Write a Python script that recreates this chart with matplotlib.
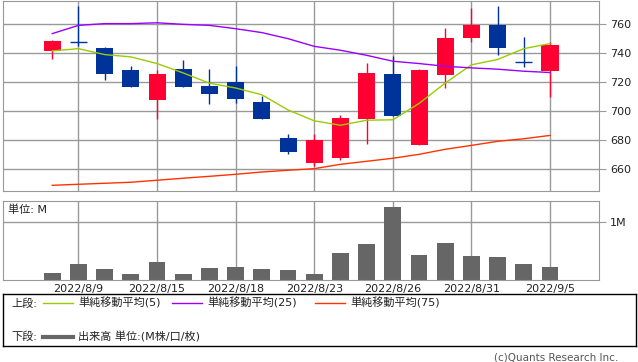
import matplotlib
matplotlib.use("Agg")
import matplotlib.pyplot as plt
import numpy as np

plt.rcParams['font.family'] = ['DejaVu Sans', 'Noto Sans CJK JP']

dates = ["8/8", "8/9", "8/10", "8/12", "8/15", "8/16", "8/17", "8/18", "8/19", "8/22",
         "8/23", "8/24", "8/25", "8/26", "8/29", "8/30", "8/31", "9/1", "9/2", "9/5"]
opens = [741.6, 748.0, 743.4, 728.3, 707.8, 729.0, 717.2, 720.0, 706.2, 681.4,
         664.4, 667.8, 694.7, 725.5, 676.8, 725.1, 750.6, 759.3, 734.3, 727.8]
highs = [749.0, 772.6, 744.1, 731.0, 728.3, 735.2, 729.0, 731.0, 710.3, 684.1,
         684.1, 697.2, 733.1, 737.9, 729.0, 757.2, 771.3, 772.4, 751.0, 748.0]
lows = [735.9, 745.0, 721.4, 716.8, 694.3, 716.8, 705.0, 705.7, 694.7, 670.6,
        662.3, 666.4, 677.2, 696.8, 676.8, 715.9, 747.8, 738.9, 730.6, 709.9]
closes = [748.3, 748.0, 725.7, 716.8, 725.5, 716.8, 712.0, 708.5, 694.7, 672.0,
          680.0, 695.2, 726.2, 696.8, 728.3, 750.3, 759.5, 743.7, 734.3, 745.5]
ma5 = [741.6, 743.2, 739.1, 737.5, 732.9, 726.4, 719.3, 716.0, 711.3, 700.8,
       693.3, 690.2, 693.7, 694.0, 705.3, 719.4, 732.0, 735.7, 743.2, 746.7]
ma25 = [753.6, 759.3, 760.5, 760.5, 761.1, 760.0, 759.3, 757.0, 754.3, 750.1,
        744.8, 742.1, 738.6, 734.5, 732.9, 731.0, 729.9, 729.0, 727.6, 726.7]
ma75 = [648.7, 649.4, 650.1, 650.8, 652.2, 653.6, 654.9, 656.3, 657.9, 659.1,
        660.2, 663.2, 665.3, 667.4, 670.1, 673.6, 676.3, 679.1, 680.9, 683.2]
volume_m = [0.126, 0.282, 0.195, 0.109, 0.316, 0.109, 0.213, 0.230, 0.195, 0.178,
            0.109, 0.471, 0.626, 1.264, 0.437, 0.644, 0.420, 0.402, 0.282, 0.230]
label_idx = [1, 4, 7, 10, 13, 16, 19]
price_ticks = [660, 680, 700, 720, 740, 760]

UP = '#FF0033'
DOWN = '#003399'
GRID = '#999999'
C5 = '#99CC00'
C25 = '#9900FF'
C75 = '#FF3300'
VOL = '#666666'

W, H = 638, 362
fig = plt.figure(figsize=(W / 100, H / 100), dpi=100)
fig.patch.set_facecolor('white')

def frac(x0, y0, x1, y1):
    return [x0 / W, 1 - y1 / H, (x1 - x0) / W, (y1 - y0) / H]

x = np.arange(len(dates))
xlim = (-1.88, 20.87)

# ---- price panel
ax = fig.add_axes(frac(3, 0.5, 599, 190.5))
ax.set_xlim(*xlim)
ax.set_ylim(645.1, 776.5)
for yv in price_ticks:
    ax.axhline(yv, color=GRID, lw=1.0, zorder=0)
for i in label_idx:
    ax.axvline(i, color=GRID, lw=1.0, zorder=0)

bw = 0.65
for i in range(len(dates)):
    o, h, l, c = opens[i], highs[i], lows[i], closes[i]
    col = UP if c > o else DOWN
    ax.vlines(i, l, h, color=col, lw=1.0, zorder=2)
    if abs(c - o) < 0.01:
        ax.hlines(o, i - bw / 2, i + bw / 2, color=col, lw=1.0, zorder=3)
    else:
        ax.bar(i, abs(c - o), bottom=min(o, c), width=bw, color=col,
               edgecolor='none', zorder=3)

ax.plot(x, ma5, color=C5, lw=1.0, zorder=4)
ax.plot(x, ma25, color=C25, lw=1.0, zorder=4)
ax.plot(x, ma75, color=C75, lw=1.0, zorder=4)

ax.set_xticks([])
ax.yaxis.tick_right()
ax.set_yticks(price_ticks)
ax.tick_params(axis='y', direction='out', length=5, color=GRID, labelsize=8,
               pad=3, labelcolor='#222222')
for s in ax.spines.values():
    s.set_color(GRID)

# ---- volume panel
av = fig.add_axes(frac(3, 201.3, 599, 280.3))
av.set_xlim(*xlim)
av.set_ylim(0, 1.362)
av.axhline(1.0, color=GRID, lw=1.0, zorder=0)
for i in label_idx:
    av.axvline(i, color=GRID, lw=1.0, zorder=0)
av.bar(x, volume_m, width=0.64, color=VOL, edgecolor='none', zorder=2)
av.yaxis.tick_right()
av.set_yticks([1.0])
av.set_yticklabels(['1M'])
av.tick_params(axis='y', direction='out', length=5, color=GRID, labelsize=8,
               pad=3, labelcolor='#222222')
av.set_xticks(label_idx)
av.set_xticklabels(['2022/' + dates[i] for i in label_idx])
av.tick_params(axis='x', length=0, labelsize=8, pad=3, labelcolor='#222222')
for s in av.spines.values():
    s.set_color(GRID)
av.text(8 / 596 * 0 + 0.008, 0.89, '単位: M', transform=av.transAxes,
        fontsize=8, ha='left', va='center', color='#222222')

# ---- legend box
al = fig.add_axes(frac(3.3, 294.3, 636, 345.5))
al.set_xlim(3.3, 636)
al.set_ylim(345.5, 294.3)
al.set_xticks([])
al.set_yticks([])
for s in al.spines.values():
    s.set_color('black')
    s.set_linewidth(1.0)

r1, r2 = 303.3, 336.7
tc = '#222222'
al.text(11.7, r1, '上段:', fontsize=8, va='center', ha='left', color=tc)
al.plot([43, 73], [r1, r1], color=C5, lw=1.0)
al.text(78, r1, '単純移動平均(5)', fontsize=8, va='center', ha='left', color=tc)
al.plot([172, 202], [r1, r1], color=C25, lw=1.0)
al.text(207, r1, '単純移動平均(25)', fontsize=8, va='center', ha='left', color=tc)
al.plot([315, 345], [r1, r1], color=C75, lw=1.0)
al.text(350, r1, '単純移動平均(75)', fontsize=8, va='center', ha='left', color=tc)
al.text(11.7, r2, '下段:', fontsize=8, va='center', ha='left', color=tc)
al.plot([43, 73], [r2, r2], color=VOL, lw=3.0)
al.text(78, r2, '出来高 単位:(M株/口/枚)', fontsize=8, va='center', ha='left', color=tc)

fig.text(618 / W, 1 - 357 / H, '(c)Quants Research Inc.', fontsize=7.5,
         ha='right', va='center', color='#555555')

fig.savefig('out.png', dpi=100)
